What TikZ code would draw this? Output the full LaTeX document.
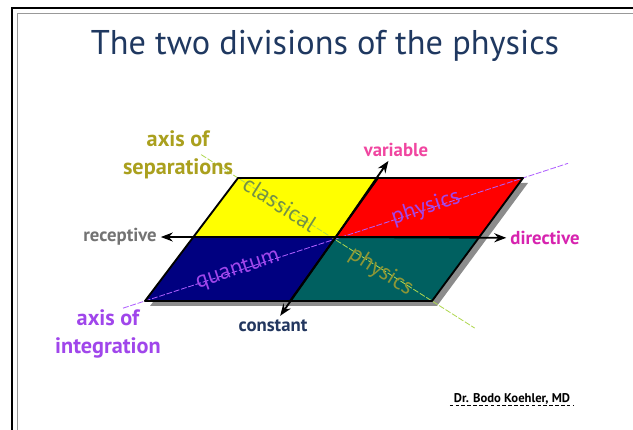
\documentclass[tikz,border=0pt]{standalone}
\usepackage{fontspec}
\setmainfont{PT Sans}
\usetikzlibrary{arrows.meta,calc}

\definecolor{titleblue}{RGB}{31,56,96}
\definecolor{quadyellow}{RGB}{255,255,0}
\definecolor{quadred}{RGB}{255,0,0}
\definecolor{quadnavy}{RGB}{0,0,128}
\definecolor{quadteal}{RGB}{0,96,96}
\definecolor{sepline}{RGB}{175,215,80}
\definecolor{intline}{RGB}{175,95,255}
\definecolor{sepolive}{RGB}{170,160,30}
\definecolor{intpurple}{RGB}{160,70,235}
\definecolor{varpink}{RGB}{240,70,160}
\definecolor{dirmagenta}{RGB}{215,35,175}
\definecolor{recgray}{RGB}{115,115,115}
\definecolor{constblue}{RGB}{35,55,95}
\definecolor{classgreen}{RGB}{115,145,70}
\definecolor{physolive}{RGB}{140,150,55}

\begin{document}
\begin{tikzpicture}[x=0.03cm,y=-0.03cm,>=Stealth,
  edgeline/.style={line width=1.6pt,line join=round},
  axisarrow/.style={->,line width=1.6pt},
  dashaxis/.style={line width=0.7pt,dash pattern=on 5pt off 1.5pt},
  outerlbl/.style={font=\bfseries\fontsize{16}{18}\selectfont},
  axislbl/.style={font=\bfseries\fontsize{19}{24}\selectfont,align=center},
  innerlbl/.style={font=\fontsize{19.5}{21}\selectfont}]
\useasboundingbox (0,0) rectangle (633,430);
% slide frame, cut off right and below
\draw[line width=1.6pt] (12,430) |- (633,8);
\draw[black!40,line width=1.6pt] (17.5,430) |- (633,13.5);
\node[text=titleblue,font=\fontsize{29.3}{32}\selectfont] (title) at (325,46) {The two divisions of the physics};

% corners of the plane
\coordinate (tl) at (238,178);
\coordinate (tr) at (523,178);
\coordinate (br) at (432,301);
\coordinate (bl) at (145,301);
\coordinate (tm) at (378,178);
\coordinate (bm) at (290,301);
\coordinate (ml) at ($(tl)!.48!(bl)$);
\coordinate (mr) at ($(tr)!.48!(br)$);
\coordinate (c) at (intersection of ml--mr and tm--bm);
\coordinate (sepA) at ($(tl)!-0.19!(br)$);
\coordinate (sepB) at ($(tl)!1.22!(br)$);
\coordinate (intA) at ($(bl)!-0.058!(tr)$);
\coordinate (intB) at ($(bl)!1.119!(tr)$);

\fill[black!45] ($(tl)+(5,5)$) -- ($(tr)+(5,5)$) -- ($(br)+(5,5)$) -- ($(bl)+(5,5)$) -- cycle;
\fill[quadyellow] (tl) -- (tm) -- (c) -- (ml) -- cycle;
\fill[quadred] (tm) -- (tr) -- (mr) -- (c) -- cycle;
\fill[quadnavy] (ml) -- (c) -- (bm) -- (bl) -- cycle;
\fill[quadteal] (c) -- (mr) -- (br) -- (bm) -- cycle;

\draw[dashaxis,sepline] (sepA) -- (sepB);
\draw[dashaxis,intline] (intA) -- (intB);
\draw[edgeline] (tl) -- (tr) -- (br) -- (bl) -- cycle;
\draw[edgeline] (ml) -- (mr) (tm) -- (bm);

\node[innerlbl,text=classgreen,rotate=-32.4] (classical) at (280,204) {classical};
\node[innerlbl,text=intpurple,rotate=18] (physicsR) at (426,208) {physics};
\node[innerlbl,text=intpurple,rotate=18] (quantum) at (238,270) {quantum};
\node[innerlbl,text=physolive,rotate=-32.4] (physicsT) at (381,272) {physics};

\node[outerlbl,text=recgray] (receptive) at (120,237) {receptive};
\node[outerlbl,text=dirmagenta] (directive) at (545,238) {directive};
\node[outerlbl,text=varpink] (variable) at (396,150) {variable};
\node[outerlbl,text=constblue] (constant) at (273,326) {constant};
\draw[axisarrow] (c) -- (receptive);
\draw[axisarrow] (c) -- (directive);
\draw[axisarrow] (c) -- (variable);
\draw[axisarrow] (c) -- (constant);

\node[axislbl,text=sepolive] (axissep) at (178,155) {axis of\\separations};
\node[axislbl,text=intpurple] (axisint) at (108,334) {axis of\\integration};

\node[font=\bfseries\fontsize{10.8}{12}\selectfont] (sig) at (512,399) {Dr. Bodo Koehler, MD};
\draw[densely dashed,line width=0.4pt] ([yshift=-2.5pt]sig.base west) -- ([yshift=-2.5pt]sig.base east);
\end{tikzpicture}
\end{document}
